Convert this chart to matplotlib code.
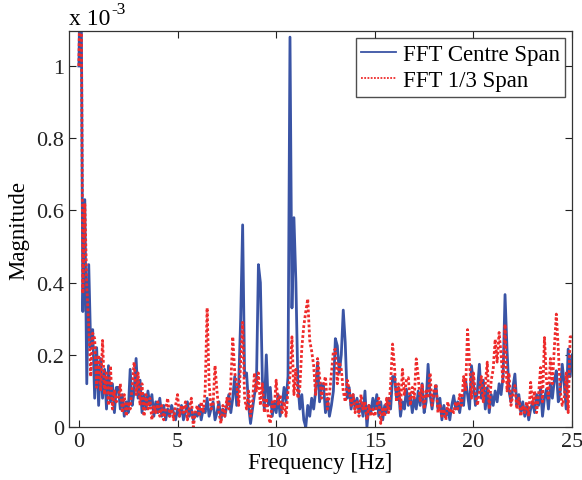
import numpy as np
import matplotlib
matplotlib.use("Agg")
import matplotlib.pyplot as plt

plt.rcParams['font.family'] = ['Liberation Serif', 'DejaVu Serif']

# frequency axis, 0.1 Hz steps
freq = np.round(np.arange(0, 25.05, 0.1), 2)

# magnitudes in units of 1e-3
centre_span = [
    1.00, 1.40, 0.32, 0.63, 0.12, 0.45, 0.22, 0.27, 0.08, 0.22,
    0.06, 0.19, 0.08, 0.16, 0.05, 0.17, 0.07, 0.12, 0.04, 0.11,
    0.11, 0.05, 0.09, 0.03, 0.07, 0.04, 0.16, 0.06, 0.10, 0.19,
    0.08, 0.13, 0.04, 0.09, 0.05, 0.10, 0.06, 0.09, 0.03, 0.07,
    0.04, 0.08, 0.03, 0.06, 0.02, 0.05, 0.03, 0.06, 0.04, 0.02,
    0.05, 0.03, 0.06, 0.02, 0.04, 0.07, 0.03, 0.05, 0.02, 0.04,
    0.03, 0.06, 0.02, 0.05, 0.04, 0.08, 0.03, 0.05, 0.07, 0.02,
    0.04, 0.07, 0.02, 0.05, 0.03, 0.06, 0.09, 0.04, 0.08, 0.14,
    0.06, 0.12, 0.30, 0.56, 0.14, 0.15, 0.06, 0.01, 0.05, 0.09,
    0.12, 0.45, 0.40, 0.13, 0.05, 0.20, 0.06, 0.11, 0.03, 0.07,
    0.04, 0.09, 0.03, 0.06, 0.11, 0.07, 0.14, 1.08, 0.33, 0.58,
    0.40, 0.12, 0.05, 0.09, 0.02, 0.00, 0.06, 0.03, 0.08, 0.05,
    0.10, 0.18, 0.07, 0.12, 0.115, 0.04, 0.08, 0.03, 0.06, 0.10,
    0.245, 0.225, 0.15, 0.20, 0.324, 0.235, 0.08, 0.11, 0.05, 0.09,
    0.05, 0.08, 0.04, 0.07, 0.03, 0.10, 0.00, 0.06, 0.04, 0.08,
    0.05, 0.09, 0.03, 0.07, 0.02, 0.06, 0.04, 0.08, 0.05, 0.14,
    0.14, 0.08, 0.11, 0.03, 0.07, 0.05, 0.105, 0.06, 0.09, 0.04,
    0.08, 0.05, 0.10, 0.06, 0.12, 0.04, 0.07, 0.174, 0.09, 0.05,
    0.09, 0.115, 0.05, 0.08, 0.02, 0.06, 0.03, 0.05, 0.02, 0.06,
    0.087, 0.05, 0.07, 0.04, 0.08, 0.06, 0.13, 0.09, 0.05, 0.17,
    0.12, 0.06, 0.10, 0.174, 0.08, 0.13, 0.05, 0.11, 0.04, 0.09,
    0.06, 0.10, 0.07, 0.12, 0.09, 0.14, 0.367, 0.216, 0.10, 0.07,
    0.11, 0.147, 0.06, 0.09, 0.04, 0.07, 0.03, 0.06, 0.02, 0.05,
    0.07, 0.04, 0.09, 0.06, 0.11, 0.03, 0.08, 0.105, 0.05, 0.12,
    0.08, 0.13, 0.156, 0.07, 0.10, 0.174, 0.12, 0.05, 0.216, 0.14,
    0.20,
]

third_span = [
    1.00, 1.40, 0.37, 0.62, 0.39, 0.28, 0.14, 0.26, 0.245, 0.11,
    0.20, 0.10, 0.24, 0.09, 0.15, 0.06, 0.17, 0.05, 0.10, 0.07,
    0.08, 0.12, 0.04, 0.09, 0.03, 0.07, 0.05, 0.11, 0.18, 0.09,
    0.15, 0.06, 0.12, 0.03, 0.09, 0.05, 0.08, 0.02, 0.06, 0.04,
    0.07, 0.03, 0.06, 0.02, 0.05, 0.08, 0.03, 0.05, 0.02, 0.06,
    0.09, 0.03, 0.06, 0.04, 0.07, 0.02, 0.05, 0.08, 0.00, 0.04,
    0.06, 0.03, 0.07, 0.04, 0.10, 0.33, 0.12, 0.05, 0.06, 0.17,
    0.10, 0.04, 0.01, 0.06, 0.03, 0.08, 0.05, 0.12, 0.25, 0.15,
    0.12, 0.06, 0.18, 0.29, 0.08, 0.05, 0.10, 0.03, 0.07, 0.15,
    0.10, 0.15, 0.06, 0.12, 0.04, 0.08, 0.03, 0.01, 0.07, 0.05,
    0.13, 0.06, 0.09, 0.04, 0.07, 0.03, 0.10, 0.14, 0.25, 0.09,
    0.16, 0.08, 0.11, 0.22, 0.28, 0.32, 0.355, 0.24, 0.21, 0.17,
    0.09, 0.19, 0.14, 0.08, 0.12, 0.14, 0.05, 0.09, 0.15, 0.21,
    0.216, 0.12, 0.18, 0.16, 0.10, 0.07, 0.13, 0.105, 0.06, 0.09,
    0.04, 0.07, 0.03, 0.09, 0.05, 0.07, 0.02, 0.06, 0.03, 0.05,
    0.03, 0.06, 0.08, 0.01, 0.05, 0.03, 0.08, 0.04, 0.12, 0.23,
    0.165, 0.07, 0.12, 0.05, 0.16, 0.09, 0.13, 0.137, 0.06, 0.11,
    0.08, 0.189, 0.14, 0.07, 0.12, 0.05, 0.10, 0.08, 0.15, 0.06,
    0.10, 0.12, 0.04, 0.06, 0.03, 0.05, 0.02, 0.07, 0.04, 0.05,
    0.04, 0.07, 0.05, 0.09, 0.06, 0.14, 0.10, 0.27, 0.18, 0.08,
    0.15, 0.09, 0.06, 0.10, 0.14, 0.07, 0.12, 0.18, 0.05, 0.13,
    0.16, 0.243, 0.18, 0.262, 0.20, 0.12, 0.285, 0.10, 0.15, 0.06,
    0.09, 0.115, 0.05, 0.08, 0.03, 0.06, 0.04, 0.07, 0.03, 0.124,
    0.06, 0.10, 0.04, 0.09, 0.165, 0.07, 0.248, 0.13, 0.08, 0.19,
    0.12, 0.22, 0.313, 0.216, 0.10, 0.06, 0.08, 0.15, 0.04, 0.25,
    0.25,
]

xticks = [0, 5, 10, 15, 20, 25]
yticks = [0, 0.2, 0.4, 0.6, 0.8, 1.0]
ytick_labels = ['0', '0.2', '0.4', '0.6', '0.8', '1']

fig = plt.figure(figsize=(5.82, 4.81), dpi=100)
ax = fig.add_axes([0.1186, 0.110, 0.8644, 0.8235])

ax.plot(freq, centre_span, color='#3a54a5', lw=2.0, label='FFT Centre Span')
ax.plot(freq, third_span, color='#ee2b2b', lw=2.0, ls=(0, (1, 0.8)),
        label='FFT 1/3 Span')

ax.set_xlim(-0.5, 25)
ax.set_ylim(0, 1.097)
ax.set_xticks(xticks)
ax.set_yticks(yticks)
ax.set_yticklabels(ytick_labels)
ax.tick_params(direction='in', top=True, right=True, length=5, width=0.8,
               labelsize=16, colors='#222222')
for s in ax.spines.values():
    s.set_linewidth(0.9)
    s.set_color('#333333')

ax.set_xlabel('Frequency [Hz]', fontsize=16.5, labelpad=1)
ax.set_ylabel('Magnitude', fontsize=16.5, labelpad=5)
# MATLAB-style exponent label above the y axis
ax.text(0, 1.004, 'x 10', transform=ax.transAxes,
        fontsize=17, ha='left', va='bottom')
ax.text(0.085, 1.035, '-3', transform=ax.transAxes,
        fontsize=12.5, ha='left', va='bottom')

leg = ax.legend(loc='upper right', fontsize=16.5, frameon=True, fancybox=False,
                handlelength=1.5, handletextpad=0.3, borderpad=0.25,
                labelspacing=0.25, borderaxespad=0.3)
leg.get_frame().set_edgecolor('#222222')
leg.get_frame().set_linewidth(1.0)
for line in leg.get_lines():
    line.set_linewidth(1.3)

fig.savefig('out.png', dpi=100)
